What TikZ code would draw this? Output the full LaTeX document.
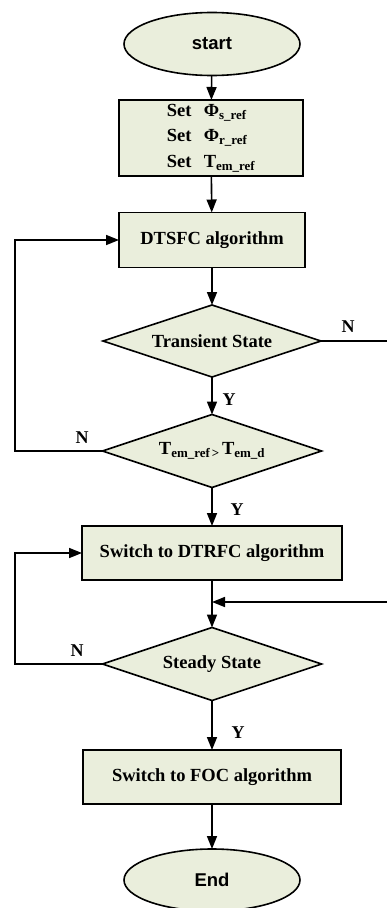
\documentclass[tikz,border=0pt]{standalone}
\usepackage{fontspec}
\setmainfont{Liberation Serif}
\newfontfamily\arialfont{Liberation Sans}
\usetikzlibrary{shapes.geometric,arrows.meta}
\definecolor{boxfill}{HTML}{EAEEDC}
\begin{document}
\begin{tikzpicture}[x=1pt,y=-1pt,
  every node/.style={inner sep=0pt,outer sep=0pt},
  base/.style={draw=black,line width=1.6pt,fill=boxfill,font=\fontsize{18.5}{22}\selectfont\bfseries},
  procbox/.style={base,rectangle},
  termbox/.style={base,ellipse,font=\fontsize{18.5}{22}\selectfont\arialfont\bfseries},
  decbox/.style={base,diamond,aspect=3},
  flow/.style={line width=1.6pt,-{Triangle[length=13pt,width=10pt]}},
  plain/.style={line width=1.6pt},
  lbl/.style={font=\fontsize{18}{20}\selectfont\bfseries}
]
\useasboundingbox (0,0) rectangle (387,908);
\begin{scope}
\clip (0,0) rectangle (387,908);
\node[termbox,minimum width=176pt,minimum height=63pt] (start) at (212,44) {start};
\node[procbox,minimum width=184pt,minimum height=76pt,align=left] (set) at (211,138)
  {\makebox[37pt][l]{Set}Φ\textsubscript{s\_ref}\\[3.5pt]
   \makebox[37pt][l]{Set}Φ\textsubscript{r\_ref}\\[3.5pt]
   \makebox[37pt][l]{Set}T\textsubscript{em\_ref}};
\node[procbox,minimum width=186pt,minimum height=55pt] (dtsfc) at (212,240) {DTSFC algorithm};
\node[decbox,minimum width=218pt,minimum height=72pt] (trans) at (212,341) {Transient State};
\node[decbox,minimum width=219pt,minimum height=73pt] (tem) at (212,451)
  {T\textsubscript{em\_ref\,>\,}T\textsubscript{em\_d}};
\node[procbox,minimum width=260pt,minimum height=54pt] (dtrfc) at (212,553) {Switch to DTRFC algorithm};
\node[decbox,minimum width=219pt,minimum height=73pt] (steady) at (212,664) {Steady State};
\node[procbox,minimum width=258pt,minimum height=54pt] (foc) at (212,777) {Switch to FOC algorithm};
\node[termbox,minimum width=176pt,minimum height=62pt] (endn) at (212,880) {End};

\coordinate (rt1) at (387,341);
\coordinate (rt2) at (387,602);
\coordinate (mid) at (212,602);

\draw[flow] (start) -- (set);
\draw[flow] (set) -- (dtsfc);
\draw[flow] (dtsfc) -- (trans);
\draw[flow] (trans) -- (tem);
\draw[flow] (tem) -- (dtrfc);
\draw[flow] (dtrfc) -- (steady);
\draw[flow] (steady) -- (foc);
\draw[flow] (foc) -- (endn);
\draw[plain] (trans.east) -- (rt1);
\draw[flow] (rt2) -- (mid);
\draw[flow] (tem.west) -- (15,451) |- (dtsfc.west);
\draw[flow] (steady.west) -- (15,664) |- (dtrfc.west);

\node[lbl] (n1) at (348,327) {N};
\node[lbl] (y1) at (229,400) {Y};
\node[lbl] (n2) at (82,438) {N};
\node[lbl] (y2) at (237,510) {Y};
\node[lbl] (n3) at (77,651) {N};
\node[lbl] (y3) at (238,733) {Y};
\end{scope}
\end{tikzpicture}
\end{document}
